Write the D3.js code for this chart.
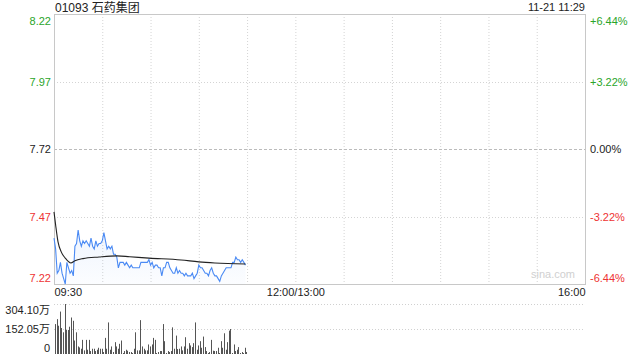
<!DOCTYPE html>
<html>
<head>
<meta charset="utf-8">
<script src="https://cdn.jsdelivr.net/npm/d3@7"></script>
<style>
  html, body { margin: 0; padding: 0; background: #fff; }
  svg { display: block; font-family: "Liberation Sans", Arial, "Noto Sans CJK SC", sans-serif; }
</style>
</head>
<body>
<svg id="chart" width="640" height="360"></svg>
<script>
// minute prices from 09:30 to 11:29
const prices = [
  7.39, 7.35, 7.26, 7.27, 7.30, 7.26, 7.24, 7.22, 7.30, 7.28,
  7.26, 7.27, 7.25, 7.36, 7.37, 7.42, 7.38, 7.36, 7.38, 7.37,
  7.38, 7.37, 7.36, 7.39, 7.36, 7.35, 7.38, 7.36, 7.37, 7.37,
  7.38, 7.41, 7.38, 7.35, 7.36, 7.35, 7.36, 7.33, 7.33, 7.32,
  7.28, 7.30, 7.30, 7.30, 7.29, 7.30, 7.29, 7.28, 7.29, 7.28,
  7.28, 7.28, 7.28, 7.28, 7.30, 7.30, 7.30, 7.30, 7.30, 7.31,
  7.29, 7.30, 7.28, 7.29, 7.29, 7.28, 7.28, 7.25, 7.28, 7.28,
  7.30, 7.30, 7.28, 7.27, 7.26, 7.26, 7.28, 7.26, 7.27, 7.26,
  7.26, 7.25, 7.26, 7.25, 7.25, 7.25, 7.26, 7.24, 7.25, 7.26,
  7.29, 7.28, 7.28, 7.27, 7.26, 7.26, 7.25, 7.27, 7.28, 7.26,
  7.25, 7.25, 7.24, 7.23, 7.25, 7.26, 7.27, 7.28, 7.28, 7.28,
  7.28, 7.30, 7.30, 7.32, 7.31, 7.31, 7.30, 7.31, 7.30, 7.29
];

// average price line, read at a few minutes
const avgMinutes = [0, 1, 2.5, 4.5, 7, 10.5, 13, 18, 28, 39, 47, 59, 79, 90, 100, 119];
const avgValues = [7.487, 7.439, 7.376, 7.339, 7.316, 7.298, 7.306, 7.314, 7.320, 7.324, 7.321, 7.316, 7.309, 7.302, 7.298, 7.294];

// volume per minute, 万 shares
const volumes = [
  182, 212, 172, 258, 158, 132, 304, 146, 146, 166,
  222, 202, 82, 132, 46, 40, 32, 86, 22, 86,
  26, 86, 18, 32, 32, 18, 26, 38, 32, 32,
  12, 98, 32, 192, 26, 46, 12, 72, 46, 32,
  62, 82, 6, 18, 26, 20, 12, 12, 6, 32,
  132, 22, 22, 206, 46, 32, 22, 22, 58, 46,
  58, 98, 86, 6, 12, 18, 18, 182, 78, 6,
  18, 12, 18, 162, 32, 112, 30, 32, 46, 22,
  46, 102, 32, 66, 52, 42, 66, 192, 26, 52,
  78, 38, 106, 42, 18, 6, 12, 86, 20, 18,
  18, 38, 6, 78, 38, 126, 26, 72, 142, 152,
  6, 58, 18, 26, 42, 6, 12, 6, 38, 12
];

const priceTicks = [8.22, 7.97, 7.72, 7.47, 7.22];
const pctLabels = ["+6.44%", "+3.22%", "0.00%", "-3.22%", "-6.44%"];
const volTicks = [304.10, 152.05, 0];
const volLabels = ["304.10万", "152.05万", "0"];
const timeTicks = [0, 150, 330];
const timeLabels = ["09:30", "12:00/13:00", "16:00"];

const GREEN = "#2aa52a", RED = "#ee3333", DARK = "#222";
const tickColor = i => (i < 2 ? GREEN : i === 2 ? DARK : RED);

const svg = d3.select("#chart");
const L = 54, R = 585, T = 14, B = 284;
const VT = 304, VB = 354;

const x = d3.scaleLinear().domain([0, 330]).range([L, R]);
const y = d3.scaleLinear().domain([7.22, 8.22]).range([B, T]);
const yv = d3.scaleLinear().domain([0, 304.10]).range([VB, VT]);

// grid
const grid = svg.append("g");
grid.selectAll(".vg")
  .data(d3.range(30, 330, 30))
  .join("line")
  .attr("x1", d => x(d) + 0.5).attr("x2", d => x(d) + 0.5)
  .attr("y1", T).attr("y2", B)
  .attr("stroke", "#d4d4d4").attr("stroke-dasharray", "1,2");

grid.selectAll(".hg")
  .data(priceTicks.slice(1, 4))
  .join("line")
  .attr("x1", L).attr("x2", R)
  .attr("y1", d => Math.round(y(d)) + 0.5).attr("y2", d => Math.round(y(d)) + 0.5)
  .attr("stroke", (d, i) => (i === 1 ? "#bbb" : "#d4d4d4"))
  .attr("stroke-dasharray", (d, i) => (i === 1 ? "3,2" : "1,2"));

grid.append("rect")
  .attr("x", L + 0.5).attr("y", T + 0.5)
  .attr("width", R - L).attr("height", B - T)
  .attr("fill", "none").attr("stroke", "#c8c8c8");

// volume grid
grid.selectAll(".vol-grid")
  .data(volTicks.slice(0, 2))
  .join("line")
  .attr("x1", L).attr("x2", R)
  .attr("y1", d => Math.round(yv(d)) + 0.5).attr("y2", d => Math.round(yv(d)) + 0.5)
  .attr("stroke", "#d0d0d0").attr("stroke-dasharray", "1,2");

// watermark
svg.append("text")
  .attr("x", R - 10).attr("y", B - 6)
  .attr("text-anchor", "end")
  .attr("font-size", 11).attr("fill", "#d0d0d0")
  .text("sina.com");

// price area + line
const defs = svg.append("defs");
const grad = defs.append("linearGradient").attr("id", "fillGrad")
  .attr("x1", 0).attr("y1", 0).attr("x2", 0).attr("y2", 1);
grad.append("stop").attr("offset", "0%").attr("stop-color", "#4a8af4").attr("stop-opacity", 0.09);
grad.append("stop").attr("offset", "100%").attr("stop-color", "#4a8af4").attr("stop-opacity", 0.02);

svg.append("path")
  .datum(prices)
  .attr("fill", "url(#fillGrad)")
  .attr("d", d3.area().x((d, i) => x(i)).y0(B).y1(d => y(d)));

svg.append("path")
  .datum(prices)
  .attr("fill", "none")
  .attr("stroke", "#4a8af4")
  .attr("stroke-width", 1.1)
  .attr("d", d3.line().x((d, i) => x(i)).y(d => y(d)));

svg.append("path")
  .datum(avgMinutes.map((m, i) => [m, avgValues[i]]))
  .attr("fill", "none")
  .attr("stroke", "#222")
  .attr("stroke-width", 1.1)
  .attr("d", d3.line().curve(d3.curveMonotoneX).x(d => x(d[0])).y(d => y(d[1])));

// volume bars
svg.append("g").selectAll("rect")
  .data(volumes)
  .join("rect")
  .attr("x", (d, i) => Math.round(x(i)) + 1)
  .attr("width", 1)
  .attr("y", d => yv(d))
  .attr("height", d => VB - yv(d))
  .attr("fill", "#555");

// axes
const styleAxis = (g, colorFn, shift) => {
  g.select(".domain").remove();
  g.selectAll("text")
    .attr("font-size", 11)
    .attr("font-family", "'Liberation Sans', Arial, 'Noto Sans CJK SC', sans-serif")
    .attr("fill", (d, i) => colorFn(i))
    .attr("dy", (d, i, n) => (i === 0 ? shift[0] : i === n.length - 1 ? shift[1] : "0.32em"));
};

svg.append("g")
  .attr("transform", `translate(${L},0)`)
  .call(d3.axisLeft(y).tickValues(priceTicks).tickSize(0).tickPadding(3).tickFormat(d3.format(".2f")))
  .call(g => styleAxis(g, tickColor, ["0.95em", "-0.25em"]));

svg.append("g")
  .attr("transform", `translate(${R},0)`)
  .call(d3.axisRight(y).tickValues(priceTicks).tickSize(0).tickPadding(5).tickFormat((d, i) => pctLabels[i]))
  .call(g => styleAxis(g, tickColor, ["0.95em", "-0.25em"]));

svg.append("g")
  .attr("transform", `translate(${L - 1},0)`)
  .call(d3.axisLeft(yv).tickValues(volTicks).tickSize(0).tickPadding(3).tickFormat((d, i) => volLabels[i]))
  .call(g => styleAxis(g, () => DARK, ["0.85em", "-0.2em"]));

const xAxis = svg.append("g")
  .attr("transform", `translate(0,${B})`)
  .call(d3.axisBottom(x).tickValues(timeTicks).tickSize(0).tickPadding(4).tickFormat((d, i) => timeLabels[i]));
xAxis.select(".domain").remove();
xAxis.selectAll("text")
  .attr("font-size", 11)
  .attr("font-family", "'Liberation Sans', Arial, sans-serif")
  .attr("fill", DARK)
  .attr("text-anchor", (d, i) => (i === 0 ? "start" : i === 2 ? "end" : "middle"));

// header
svg.append("text")
  .attr("x", L + 1).attr("y", 11.5)
  .attr("font-size", 12).attr("fill", DARK)
  .text("01093 石药集团");

svg.append("text")
  .attr("x", R).attr("y", 11)
  .attr("text-anchor", "end")
  .attr("font-size", 11).attr("fill", DARK)
  .text("11-21 11:29");
</script>
</body>
</html>
